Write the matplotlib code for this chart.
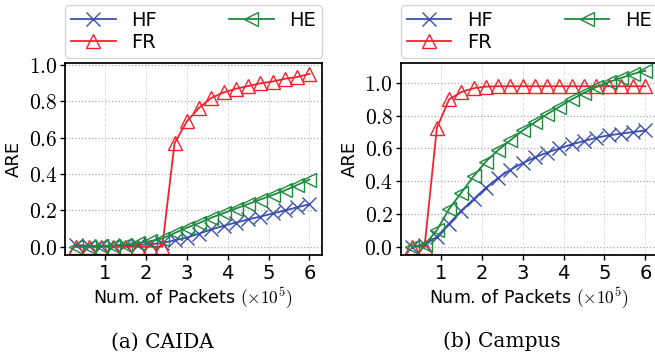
import matplotlib
matplotlib.use("Agg")
import matplotlib.pyplot as plt
from matplotlib.ticker import FuncFormatter

plt.rcParams["font.family"] = "DejaVu Sans"
plt.rcParams["mathtext.fontset"] = "cm"

# packets (x 10^5)
pkts = [0.3, 0.6, 0.9, 1.2, 1.5, 1.8, 2.1, 2.4, 2.7, 3.0,
        3.3, 3.6, 3.9, 4.2, 4.5, 4.8, 5.1, 5.4, 5.7, 6.0]

# CAIDA
caida_hf = [0.01, 0.005, 0.005, 0.006, 0.008, 0.01, 0.014, 0.02, 0.035, 0.05,
            0.072, 0.095, 0.115, 0.133, 0.15, 0.166, 0.183, 0.2, 0.217, 0.234]
caida_fr = [0.0, 0.0, 0.0, 0.0, 0.0, 0.0, 0.0, 0.0, 0.57, 0.69,
            0.765, 0.82, 0.85, 0.87, 0.885, 0.9, 0.91, 0.925, 0.935, 0.952]
caida_he = [0.0, 0.0, 0.002, 0.006, 0.012, 0.02, 0.03, 0.045, 0.075, 0.105,
            0.13, 0.16, 0.185, 0.21, 0.235, 0.26, 0.285, 0.31, 0.34, 0.37]

# Campus
campus_hf = [0.0, 0.01, 0.06, 0.14, 0.22, 0.29, 0.36, 0.42, 0.47, 0.51,
             0.545, 0.575, 0.6, 0.625, 0.645, 0.665, 0.68, 0.69, 0.7, 0.71]
campus_fr = [0.0, 0.0, 0.725, 0.9, 0.945, 0.968, 0.978, 0.98, 0.98, 0.98,
             0.98, 0.98, 0.98, 0.98, 0.98, 0.98, 0.98, 0.98, 0.98, 0.98]
campus_he = [0.0, 0.01, 0.1, 0.23, 0.33, 0.43, 0.52, 0.59, 0.65, 0.71,
             0.76, 0.81, 0.855, 0.9, 0.94, 0.975, 1.005, 1.03, 1.055, 1.075]

BLUE = "#3a4fae"
RED = "#f5222d"
GREEN = "#1d8a3e"

fig = plt.figure(figsize=(6.55, 3.6), dpi=100)
ax1 = fig.add_axes([0.0992, 0.291, 0.392, 0.533])
ax2 = fig.add_axes([0.612, 0.291, 0.392, 0.533])


def draw(ax, hf, fr, he, ylim):
    kw = dict(lw=1.3, mew=1.0, fillstyle="none")
    ax.plot(pkts, hf, color=BLUE, marker="x", ms=9.5, label="HF", **kw)
    ax.plot(pkts, fr, color=RED, marker="^", ms=10, label="FR", **kw)
    ax.plot(pkts, he, color=GREEN, marker="<", ms=10, label="HE", **kw)
    ax.set_xlim(0.02, 6.3)
    ax.set_ylim(*ylim)
    ax.set_xticks([1, 2, 3, 4, 5, 6])
    ax.set_yticks([0.0, 0.2, 0.4, 0.6, 0.8, 1.0])
    ax.yaxis.set_major_formatter(FuncFormatter(lambda v, p: r"$%.1f$" % v))
    ax.grid(axis="y", ls=":", color="#aaaaaa", lw=0.9)
    ax.grid(axis="x", ls="--", color="#e0e0e0", lw=0.7)
    ax.set_axisbelow(True)
    for s in ax.spines.values():
        s.set_color("black")
        s.set_linewidth(1.25)
    ax.tick_params(axis="x", labelsize=14, length=3.5, width=1, pad=3)
    ax.tick_params(axis="y", labelsize=15.5, length=3.5, width=1, pad=2)
    ax.set_xlabel(r"Num. of Packets $(\times10^5)$", fontsize=12.5, labelpad=2)
    ax.set_ylabel("ARE", fontsize=13, labelpad=4)
    ax.legend(loc="lower left", bbox_to_anchor=(0, 1.03, 1, 0.26),
              mode="expand", ncol=2, fontsize=14, handlelength=2.3,
              handletextpad=0.8, borderaxespad=0, labelspacing=0.15,
              borderpad=0.3, fancybox=True, framealpha=0.8,
              edgecolor="#cccccc")


draw(ax1, caida_hf, caida_fr, caida_he, (-0.047, 1.01))
draw(ax2, campus_hf, campus_fr, campus_he, (-0.053, 1.12))

fig.text(0.248, 0.035, "(a) CAIDA", fontsize=14.5, family="DejaVu Serif", ha="center")
fig.text(0.766, 0.035, "(b) Campus", fontsize=14.5, family="DejaVu Serif", ha="center")

fig.savefig("out.png", dpi=100)
